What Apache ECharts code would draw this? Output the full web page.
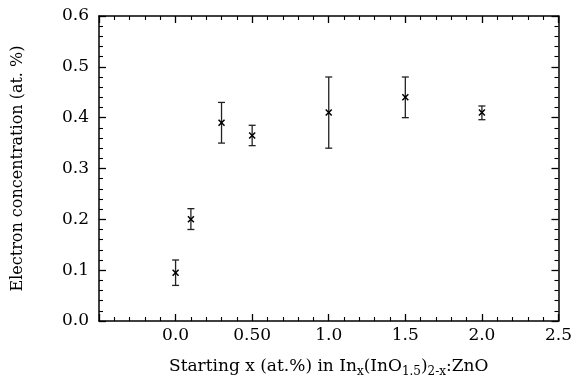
<!DOCTYPE html>
<html>
<head>
<meta charset="utf-8">
<script src="https://cdn.jsdelivr.net/npm/echarts@6/dist/echarts.min.js"></script>
<style>
  html, body { margin: 0; padding: 0; background: #fff; }
  #main { width: 575px; height: 385px; }
</style>
</head>
<body>
<div id="main"></div>
<script>
// data
var xValues = [0.0, 0.1, 0.3, 0.5, 1.0, 1.5, 2.0];
var yValues = [0.095, 0.200, 0.390, 0.365, 0.410, 0.440, 0.410];
var yLow    = [0.070, 0.180, 0.350, 0.345, 0.340, 0.400, 0.396];
var yHigh   = [0.120, 0.221, 0.430, 0.385, 0.480, 0.480, 0.423];
var xTickLabels = ['', '0.0', '0.50', '1.0', '1.5', '2.0', '2.5'];
var yTickLabels = ['0.0', '0.1', '0.2', '0.3', '0.4', '0.5', '0.6'];

var font = 'DejaVu Serif';

var points = [];
for (var i = 0; i < xValues.length; i++) {
  points.push([xValues[i], yValues[i], yLow[i], yHigh[i]]);
}

var chartDom = document.getElementById('main');
var myChart = echarts.init(chartDom, null, { renderer: 'canvas' });

//error bar + cross marker
function renderPoint(params, api) {
  var c = api.coord([api.value(0), api.value(1)]);
  var lo = api.coord([api.value(0), api.value(2)]);
  var hi = api.coord([api.value(0), api.value(3)]);
  var cap = 3.5, m = 3;
  var barStyle = { stroke: '#222', lineWidth: 1.3 };
  var mkStyle = { stroke: '#000', lineWidth: 1.5 };
  return {
    type: 'group',
    children: [
      { type: 'line', shape: { x1: c[0], y1: lo[1], x2: c[0], y2: hi[1] }, style: barStyle },
      { type: 'line', shape: { x1: c[0] - cap, y1: lo[1], x2: c[0] + cap, y2: lo[1] }, style: barStyle },
      { type: 'line', shape: { x1: c[0] - cap, y1: hi[1], x2: c[0] + cap, y2: hi[1] }, style: barStyle },
      { type: 'line', shape: { x1: c[0] - m, y1: c[1] - m, x2: c[0] + m, y2: c[1] + m }, style: mkStyle },
      { type: 'line', shape: { x1: c[0] - m, y1: c[1] + m, x2: c[0] + m, y2: c[1] - m }, style: mkStyle }
    ]
  };
}

var axisLineStyle = { color: '#000', width: 1.5 };
var tickStyle = { show: true, inside: true, length: 7, lineStyle: { color: '#000', width: 1.3 } };
var minorStyle = { show: true, splitNumber: 5, length: 4, lineStyle: { color: '#000', width: 1.1 } };

var option = {
  animation: false,
  grid: { left: 99, top: 16, right: 14, bottom: 64 },
  xAxis: [
    {
      type: 'value', position: 'bottom', min: -0.5, max: 2.5, interval: 0.5,
      axisLine: { show: true, onZero: false, lineStyle: axisLineStyle },
      axisTick: tickStyle, minorTick: minorStyle,
      splitLine: { show: false },
      axisLabel: {
        color: '#000', fontFamily: font, fontSize: 17, margin: 6,
        formatter: function (v) { return xTickLabels[Math.round((v + 0.5) / 0.5)]; }
      },
      name: 'Starting x (at.%) in In{sub|x}(InO{sub|1.5}){sub|2-x}:ZnO',
      nameLocation: 'middle', nameGap: 34,
      nameTextStyle: {
        color: '#000', fontFamily: font, fontSize: 17,
        rich: { sub: { fontFamily: font, fontSize: 12, padding: [11, 0, 0, 0], color: '#000' } }
      }
    },
    {
      type: 'value', position: 'top', min: -0.5, max: 2.5, interval: 0.5,
      axisLine: { show: true, onZero: false, lineStyle: axisLineStyle },
      axisTick: tickStyle, minorTick: minorStyle,
      splitLine: { show: false }, axisLabel: { show: false }
    }
  ],
  yAxis: [
    {
      type: 'value', position: 'left', min: 0, max: 0.6, interval: 0.1,
      axisLine: { show: true, onZero: false, lineStyle: axisLineStyle },
      axisTick: tickStyle, minorTick: minorStyle,
      splitLine: { show: false },
      axisLabel: {
        color: '#000', fontFamily: font, fontSize: 17, margin: 10,
        formatter: function (v) { return yTickLabels[Math.round(v * 10)]; }
      },
      name: 'Electron concentration (at. %)',
      nameLocation: 'middle', nameGap: 73,
      nameTextStyle: { color: '#000', fontFamily: font, fontSize: 16 }
    },
    {
      type: 'value', position: 'right', min: 0, max: 0.6, interval: 0.1,
      axisLine: { show: true, onZero: false, lineStyle: axisLineStyle },
      axisTick: tickStyle, minorTick: minorStyle,
      splitLine: { show: false }, axisLabel: { show: false }
    }
  ],
  series: [
    {
      type: 'custom',
      xAxisIndex: 0, yAxisIndex: 0,
      renderItem: renderPoint,
      encode: { x: 0, y: [1, 2, 3] },
      data: points,
      clip: false
    }
  ]
};

option && myChart.setOption(option, true);
</script>
</body>
</html>
